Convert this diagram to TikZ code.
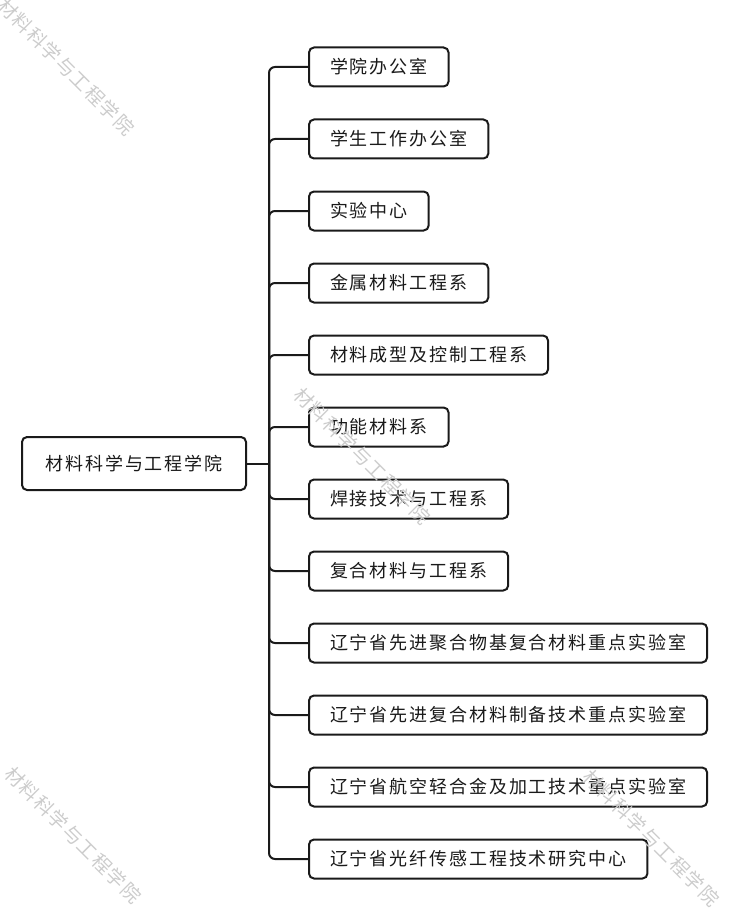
\documentclass[tikz,border=0pt]{standalone}
\usepackage{fontspec}
\setmainfont{Noto Sans CJK SC}[LetterSpace=10.5]
\newfontfamily\markfont{Noto Sans CJK SC}[LetterSpace=8]
\usetikzlibrary{positioning}
\definecolor{inkline}{RGB}{26,26,26}

\tikzset{
  unitbox/.style={draw=inkline, line width=2pt, rounded corners=5pt, fill=white,
    minimum height=39pt, inner xsep=21pt, inner ysep=0pt,
    font=\fontsize{18}{21}\selectfont, text=inkline},
  rootbox/.style={unitbox, minimum height=53pt, minimum width=224pt},
  link/.style={draw=inkline, line width=2pt, rounded corners=6pt},
  wmark/.style={text=gray!40, rotate=-45, font=\markfont\fontsize{19}{21}\selectfont}
}

\begin{document}
\begin{tikzpicture}[x=1pt,y=-1pt]
  \useasboundingbox (0,0) rectangle (731,912);

  % college
  \node[rootbox] (root) at (134,463.5) {材料科学与工程学院};
  \coordinate (hub) at ([xshift=22pt]root.east);

  % offices, departments and labs
  \foreach \t [count=\i] in {学院办公室, 学生工作办公室, 实验中心, 金属材料工程系,
      材料成型及控制工程系, 功能材料系, 焊接技术与工程系, 复合材料与工程系,
      辽宁省先进聚合物基复合材料重点实验室, 辽宁省先进复合材料制备技术重点实验室,
      辽宁省航空轻合金及加工技术重点实验室, 辽宁省光纤传感工程技术研究中心}
    \node[unitbox, anchor=west] (c\i) at (308,{67+72*(\i-1)}) {\t};

  \draw[link] (root.east) -- (hub);
  \foreach \i in {1,...,12}
    \draw[link] (hub) |- (c\i.west);

  % watermarks
  \node[wmark] (w1) at (66,67) {材料科学与工程学院};
  \node[wmark] (w2) at (362,456) {材料科学与工程学院};
  \node[wmark] (w3) at (73,835) {材料科学与工程学院};
  \node[wmark] (w4) at (651,838) {材料科学与工程学院};
\end{tikzpicture}
\end{document}
